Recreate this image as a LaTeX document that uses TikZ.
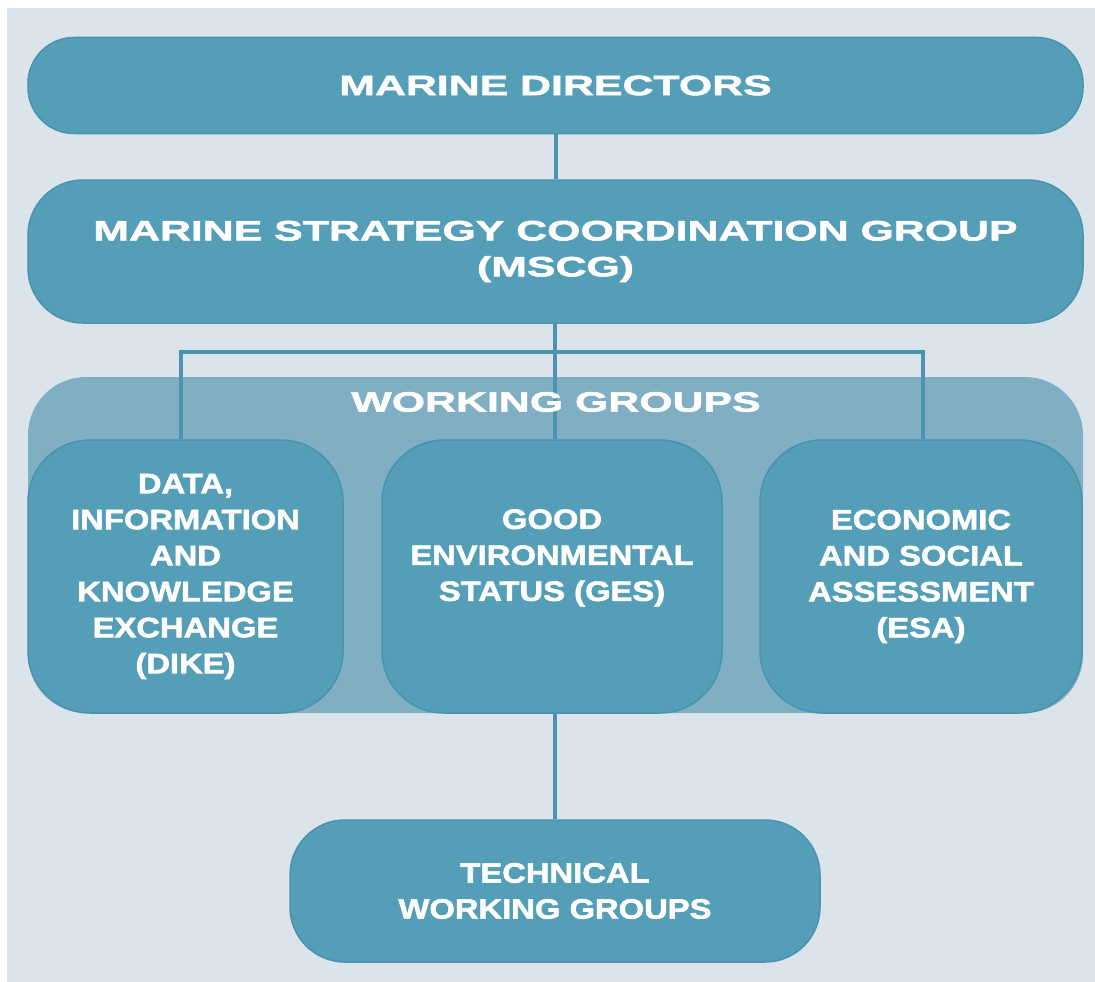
\documentclass[tikz,border=0pt]{standalone}
\usepackage{fontspec}
\usetikzlibrary{backgrounds}
\newfontfamily\headfont[FakeStretch=1.53,FakeBold=2]{Liberation Sans}
\newfontfamily\boxfont[FakeStretch=1.17,FakeBold=2]{Liberation Sans}
\definecolor{pagecol}{HTML}{DCE4EB}
\definecolor{boxfill}{HTML}{559EB7}
\definecolor{boxedge}{HTML}{4A93AE}
\definecolor{panelcol}{HTML}{80AFC4}
\definecolor{linkcol}{HTML}{4A94AF}
\tikzset{
  box/.style={draw=boxedge, line width=1.5pt, fill=boxfill, text=white, align=center, inner sep=0pt},
  headtext/.style={text=white, align=center, font=\headfont\bfseries\fontsize{28}{36}\selectfont},
  grouptext/.style={text=white, align=center, font=\boxfont\bfseries\fontsize{28}{36}\selectfont},
  link/.style={draw=linkcol, line width=4pt}
}

\begin{document}
\begin{tikzpicture}[x=1pt, y=-1pt]
    \useasboundingbox (0,0) rectangle (1095,982);
    \node[box, headtext, minimum width=1055, minimum height=96, rounded corners=46] (MD) at (555.5,85.5) {MARINE DIRECTORS};
    \node[box, headtext, minimum width=1055, minimum height=143, rounded corners=55] (MSCG) at (555.5,251.5) {MARINE STRATEGY COORDINATION GROUP\\(MSCG)};
    \node[headtext] (WGtitle) at (556,402) {WORKING GROUPS};
    \node[box, grouptext, minimum width=315, minimum height=273, rounded corners=62] (DIKE) at (185.5,576.5) {DATA,\\INFORMATION\\AND\\KNOWLEDGE\\EXCHANGE\\(DIKE)};
    \node[box, minimum width=340, minimum height=273, rounded corners=62] (GES) at (552,576.5) {};
    \node[grouptext] (GEStext) at (552,558) {GOOD\\ENVIRONMENTAL\\STATUS (GES)};
    \node[box, grouptext, minimum width=322, minimum height=273, rounded corners=62] (ESA) at (921,576.5) {ECONOMIC\\AND SOCIAL\\ASSESSMENT\\(ESA)};
    \node[box, grouptext, minimum width=530, minimum height=142, rounded corners=55] (TWG) at (555,891) {TECHNICAL\\WORKING GROUPS};
    \coordinate (bus) at (555,352);

    \begin{scope}[on background layer]
        \fill[pagecol] (7,8) rectangle (1110,1000);
        \node[fill=panelcol, rounded corners=58, minimum width=1055, minimum height=336, inner sep=0pt] (WG) at (555.5,545) {};
        \draw[link] (MD) -- (MSCG);
        \draw[link] (MSCG.south -| bus) -- (bus);
        \draw[link] (bus) -| ([xshift=-5pt]DIKE.north);
        \draw[link] (bus) -| ([xshift=2pt]ESA.north);
        \draw[link] (bus) -- (bus |- GES.north);
        \draw[link] (TWG.north |- GES.south) -- (TWG.north);
    \end{scope}
\end{tikzpicture}
\end{document}
